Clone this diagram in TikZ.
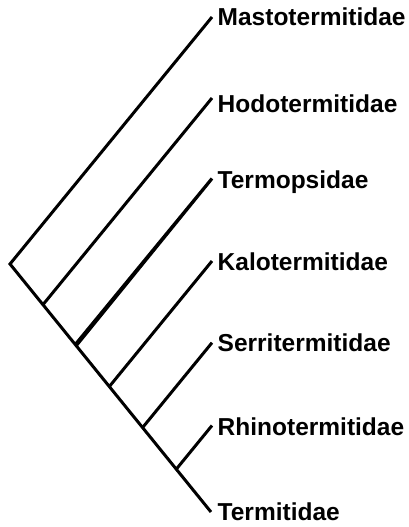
\documentclass[tikz,border=0pt]{standalone}
\usepackage{fontspec}
\setmainfont{Liberation Sans}
\usetikzlibrary{calc}
\begin{document}
\begin{tikzpicture}[x=1pt,y=-1pt,
  branch/.style={line width=3pt, line cap=butt, line join=miter},
  taperbranch/.style={fill=black},
  taxon/.style={anchor=west, inner sep=0pt, font=\fontsize{24.5}{24.5}\selectfont\bfseries, text height=17.5pt, text depth=0pt}]
\useasboundingbox (0,0) rectangle (409,527);
\coordinate (r) at (10,264);
\coordinate (t0) at (212,17);
\coordinate (t1) at (212,98);
\coordinate (t2) at (212,178.5);
\coordinate (t3) at (212,261);
\coordinate (t4) at (212,342.7);
\coordinate (t5) at (212,425.5);
\coordinate (t6) at (211,512);
\foreach \i in {1,...,5} {
  \coordinate (a\i) at ($(t\i)+(r)-(t0)$);
  \coordinate (n\i) at (intersection of r--t6 and t\i--a\i);
}
\node[taxon] (L0) at (217.5,17) {Mastotermitidae};
\node[taxon] (L1) at (217.5,103.5) {Hodotermitidae};
\node[taxon] (L2) at (217.5,179.5) {Termopsidae};
\node[taxon] (L3) at (217.5,262) {Kalotermitidae};
\node[taxon] (L4) at (217.5,342.5) {Serritermitidae};
\node[taxon] (L5) at (217.5,427) {Rhinotermitidae};
\node[taxon] (L6) at (217.5,511.5) {Termitidae};
\draw[branch] (t0) -- (r) -- (t6);
\draw[branch] (n1) -- (t1);
\fill[taperbranch] ($(n2)!2.3pt!90:(t2)$) -- ($(n2)!2.3pt!-90:(t2)$)
  -- ($(t2)!1.6pt!90:(n2)$) -- ($(t2)!1.6pt!-90:(n2)$) -- cycle;
\draw[branch] (n3) -- (t3);
\draw[branch] (n4) -- (t4);
\draw[branch] (n5) -- (t5);
\end{tikzpicture}
\end{document}
